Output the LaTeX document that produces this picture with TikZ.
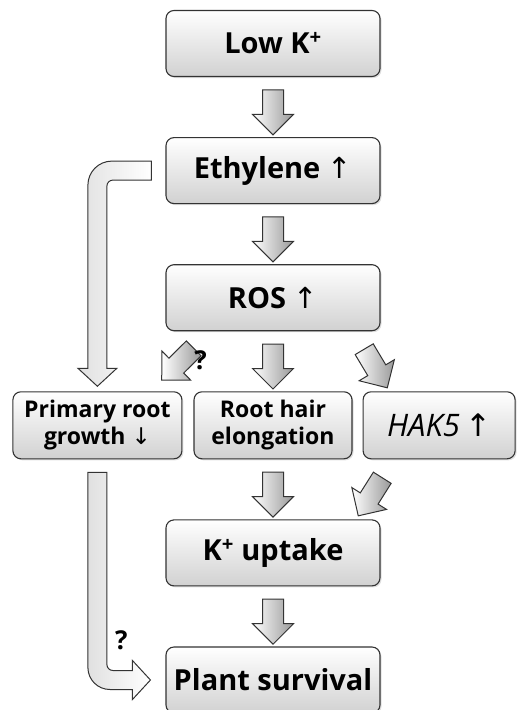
\documentclass[tikz,border=0pt]{standalone}
\usepackage{fontspec}
\setmainfont{Open Sans}
\newfontfamily\arrowfont{DejaVu Sans}
\usetikzlibrary{positioning,calc,shapes.arrows,shadows}
\definecolor{edge}{HTML}{333333}

\begin{document}
\begin{tikzpicture}[node distance=60pt,
  box/.style={draw=edge,line width=1.1pt,rounded corners=8pt,top color=white,
              bottom color=black!18,align=center,minimum width=214pt,minimum height=66pt,
              font=\fontsize{29}{33}\selectfont\bfseries,
              drop shadow={opacity=0.25,shadow xshift=1.5pt,shadow yshift=-1.5pt}},
  small/.style={box,minimum height=67pt,font=\fontsize{23}{27}\selectfont\bfseries},
  fat/.style={single arrow,draw=edge,line width=1pt,left color=white,right color=black!40,
              minimum height=45pt,single arrow head extend=10pt,
              single arrow tip angle=90,inner xsep=0pt,inner ysep=10pt,sloped,allow upside down},
  big/.style={draw=edge,line width=1pt,left color=black!12,right color=white},
  qm/.style={font=\fontsize{26}{28}\selectfont\bfseries}]
\useasboundingbox (0,0) rectangle (517pt,-710pt);
\node[box] (a) at (273pt,-43.5pt) {Low K\textsuperscript{+}};
\node[box,below=of a] (b) {Ethylene {\arrowfont\mdseries↑}};
\node[box,below=of b] (c) {ROS {\arrowfont\mdseries↑}};
\node[small,below=of c,minimum width=158pt] (r) {Root hair\\elongation};
\node[small,left=11pt of r,minimum width=169pt] (p) {Primary root\\growth {\arrowfont\mdseries↓}};
\node[small,right=10pt of r,minimum width=152pt,
      font=\fontsize{31}{34}\selectfont\itshape] (h) {HAK5\,{\upshape\arrowfont↑}};
\node[box,below=of r] (k) {K\textsuperscript{+} uptake};
\node[box,below=of k] (s) {Plant survival};
% straight arrows
\path (a) -- (b) node[fat,midway]{};
\path (b) -- (c) node[fat,midway]{};
\path (c) -- (r) node[fat,midway]{};
\path (r) -- (k) node[fat,midway]{};
\path (k) -- (s) node[fat,midway]{};
\path ($(c.south west)+(39pt,-6.5pt)$) -- ($(p.north east)+(-24pt,8pt)$) node[fat,midway]{};
\path ($(c.south east)+(-22pt,-8.5pt)$) -- ($(h.north west)+(25pt,3pt)$) node[fat,midway]{};
\path ($(h.south west)+(25pt,-10pt)$) -- ($(k.north east)+(-22pt,4pt)$) node[fat,midway]{};
\node[qm] (q1) at ($(c.south west)+(35pt,-29pt)$) {?};
% bent arrows
\draw[big] let \p1=(b.west),\p2=(p.north) in
  (\x1-14pt,\y1+9.5pt) -- (\x2+14.5pt,\y1+9.5pt) arc[start angle=90,end angle=180,radius=24pt]
  -- (\x2-9.5pt,\y2+23pt) -- (\x2-19.5pt,\y2+23pt) -- (\x2,\y2+5pt) -- (\x2+19.5pt,\y2+23pt)
  -- (\x2+9.5pt,\y2+23pt) -- (\x2+9.5pt,\y1-15.5pt) arc[start angle=180,end angle=90,radius=6pt]
  -- (\x1-14pt,\y1-9.5pt) -- cycle;
\draw[big] let \p1=(p.south),\p2=(s.west) in
  (\x1-9.5pt,\y1-13pt) -- (\x1-9.5pt,\y2+12.5pt) arc[start angle=180,end angle=270,radius=22pt]
  -- (\x2-33pt,\y2-9.5pt) -- (\x2-33pt,\y2-19.5pt) -- (\x2-15pt,\y2) -- (\x2-33pt,\y2+19.5pt)
  -- (\x2-33pt,\y2+9.5pt) -- (\x1+15.5pt,\y2+9.5pt) arc[start angle=270,end angle=180,radius=6pt]
  -- (\x1+9.5pt,\y1-13pt) -- cycle;
\node[qm] (q2) at ($(s.west)+(-44pt,40pt)$) {?};
\end{tikzpicture}
\end{document}
